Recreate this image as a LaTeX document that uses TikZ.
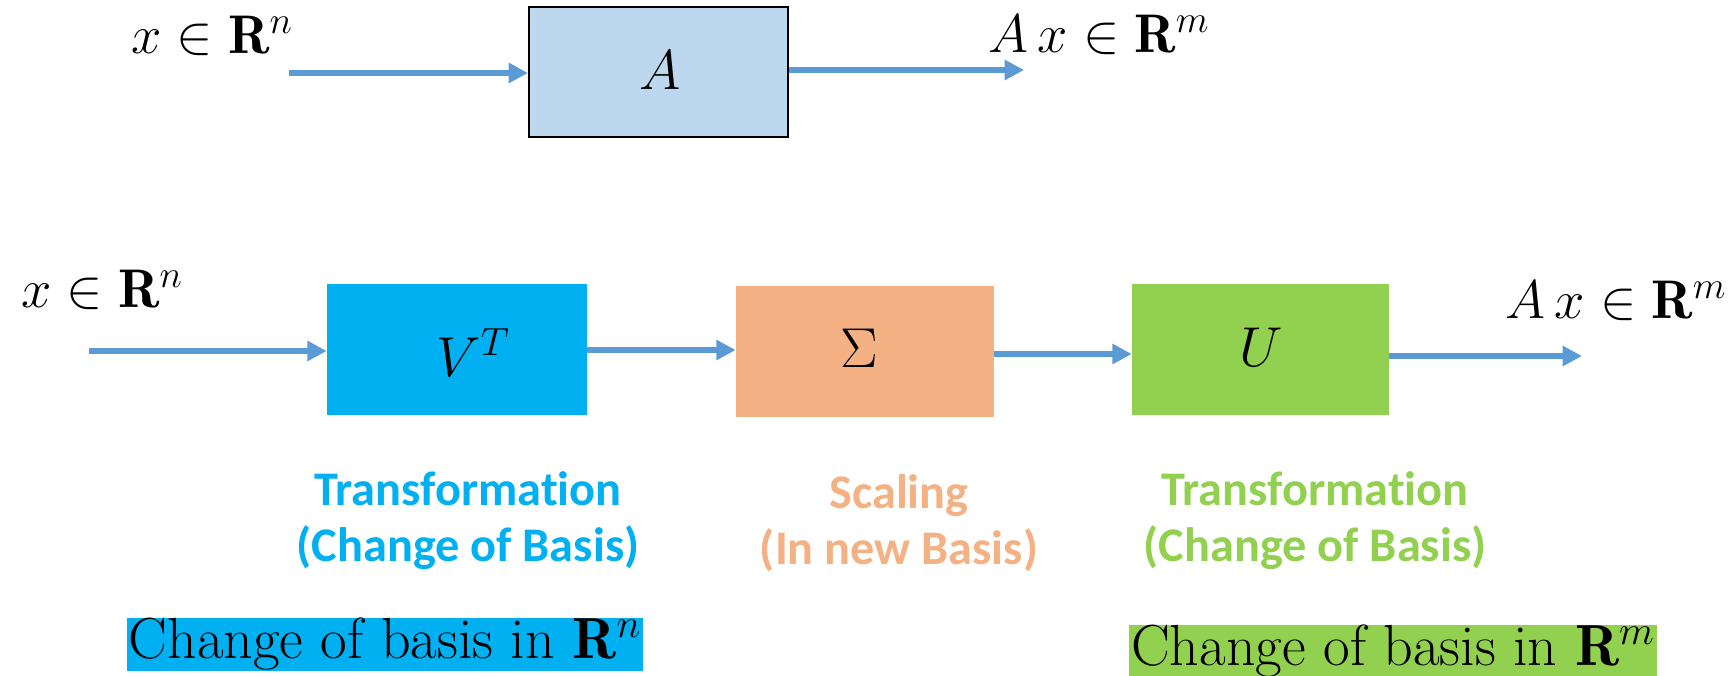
\RequirePackage{fix-cm}
\documentclass[tikz,border=0pt]{standalone}
\usepackage{fontspec}
\newfontfamily\calib[Ligatures=NoCommon]{Carlito}
\usetikzlibrary{arrows.meta}
\definecolor{arrowblue}{HTML}{5B9BD5}
\definecolor{boxA}{HTML}{BDD7EE}
\definecolor{cyanbox}{HTML}{00B0F0}
\definecolor{orangebox}{HTML}{F4B183}
\definecolor{greenbox}{HTML}{92D050}
\tikzset{
  flow/.style={draw=arrowblue, line width=2.9pt, -{Triangle[length=11pt,width=11pt]}},
  mathlbl/.style={font=\fontsize{31}{37}\selectfont, inner sep=0pt, anchor=base},
  boxlbl/.style={font=\fontsize{32}{38}\selectfont, inner sep=0pt, anchor=base},
  caption/.style={font=\calib\bfseries\fontsize{27.5}{32}\selectfont, align=center, inner sep=0pt},
  hl/.style={font=\fontsize{33}{40}\selectfont, inner xsep=1pt, inner ysep=0pt},
}
\begin{document}
\begin{tikzpicture}[x=0.02cm, y=-0.02cm]
\useasboundingbox (0,0) rectangle (1735,676);
% top row
\node[draw=black, line width=1.2pt, fill=boxA, minimum width=5.18cm, minimum height=2.6cm, inner sep=0pt] (A) at (658.5,72) {};
\node[boxlbl] (Alab) at (660,89) {$A$};
\node[mathlbl] (xin1) at (212,53) {$x \in \mathbf{R}^n$};
\node[mathlbl] (xout1) at (1099,52) {$A\,x \in \mathbf{R}^m$};
\coordinate (in1) at (289,73);
\coordinate (out1) at (1024,70);
\draw[flow] (in1) -- (in1 -| A.west);
\draw[flow] (A.east |- out1) -- (out1);
% bottom row
\node[fill=cyanbox, minimum width=5.2cm, minimum height=2.62cm, inner sep=0pt] (V) at (457,349.5) {};
\node[fill=orangebox, minimum width=5.16cm, minimum height=2.62cm, inner sep=0pt] (S) at (865,351.5) {};
\node[fill=greenbox, minimum width=5.14cm, minimum height=2.62cm, inner sep=0pt] (U) at (1260.5,349.5) {};
\node[boxlbl] (Vlab) at (473,376) {$V^T$};
\node[boxlbl] (Slab) at (859,367) {$\Sigma$};
\node[boxlbl] (Ulab) at (1261,366) {$U$};
\node[mathlbl] (xin2) at (102,307) {$x \in \mathbf{R}^n$};
\node[mathlbl] (xout2) at (1616,318) {$A\,x \in \mathbf{R}^m$};
\coordinate (in2) at (89,351);
\coordinate (out2) at (1582,356);
\draw[flow] (in2) -- (in2 -| V.west);
\draw[flow] (V.east |- 0,350) -- (S.west |- 0,350);
\draw[flow] (S.east |- 0,354) -- (U.west |- 0,354);
\draw[flow] (U.east |- out2) -- (out2);
% captions
\node[caption, text=cyanbox] (capV) at (468,521) {Transformation\\(Change of Basis)};
\node[caption, text=orangebox] (capS) at (899,523) {Scaling\\(In new Basis)};
\node[caption, text=greenbox] (capU) at (1315,521) {Transformation\\(Change of Basis)};
% highlighted notes
\node[hl, fill=cyanbox] (noteV) at (385,644.5) {Change of basis in $\mathbf{R}^n$};
\node[hl, fill=greenbox] (noteU) at (1393,651) {Change of basis in $\mathbf{R}^m$};
\end{tikzpicture}
\end{document}
